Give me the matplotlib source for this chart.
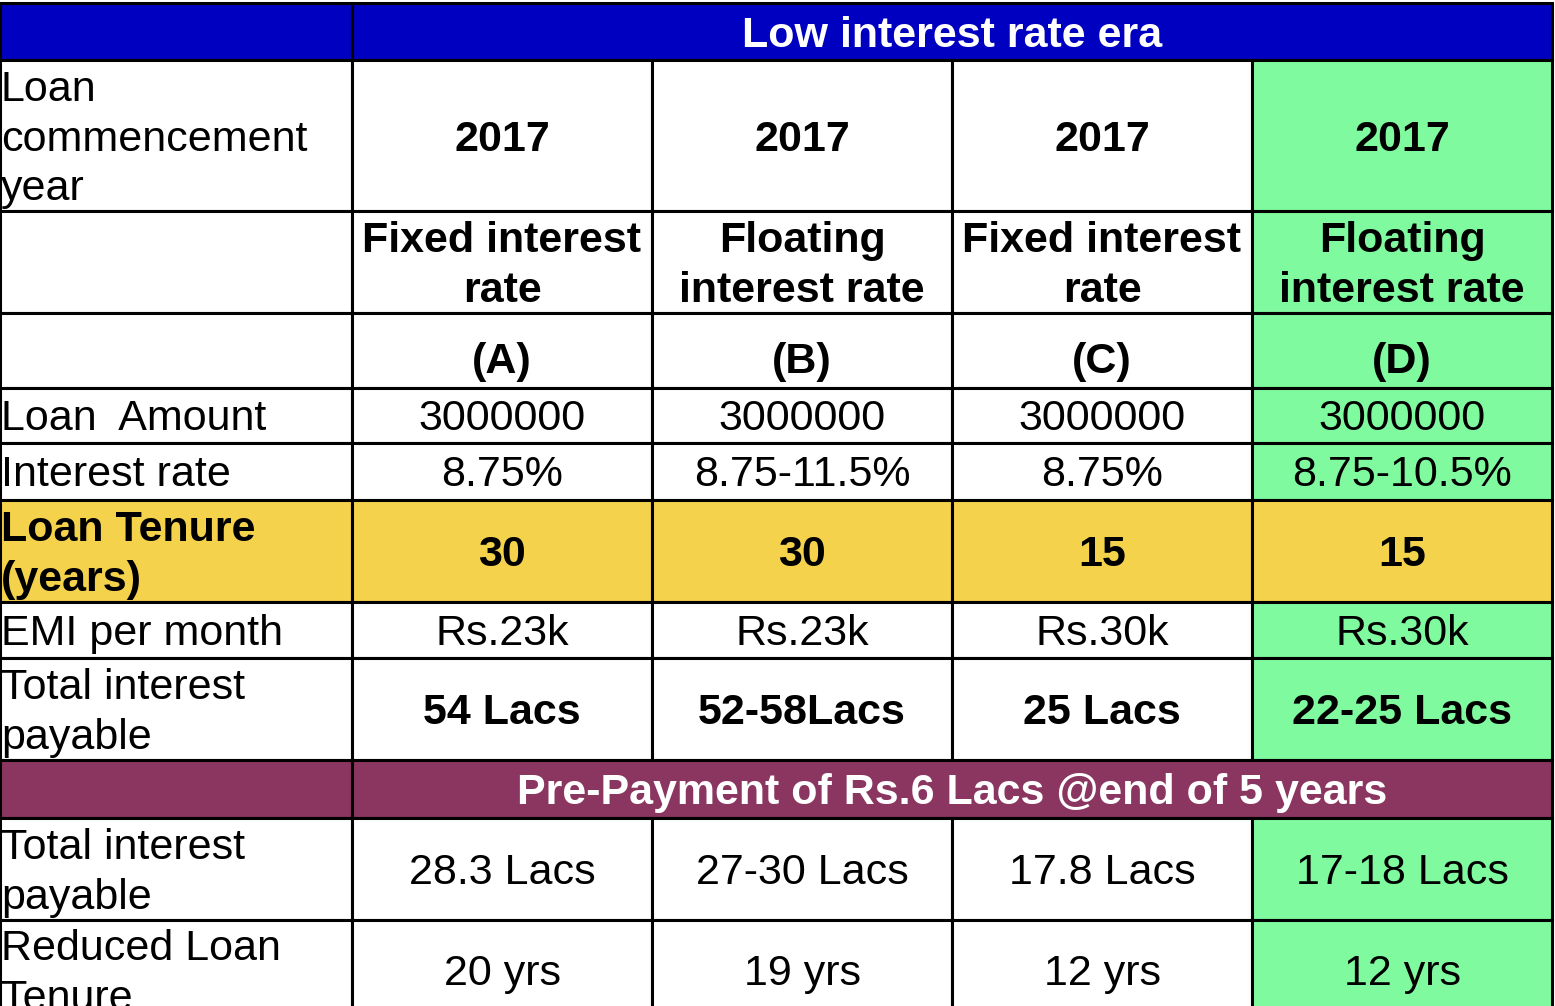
import matplotlib
matplotlib.use("Agg")
import matplotlib.pyplot as plt
from matplotlib.patches import Rectangle

plt.rcParams['font.family'] = ['Liberation Sans', 'DejaVu Sans']

# ---------------- data ----------------
header_title = "Low interest rate era"
prepay_title = "Pre-Payment of Rs.6 Lacs @end of 5 years"
row_labels = ["", "Loan\ncommencement\nyear", "", "", "Loan  Amount", "Interest rate",
              "Loan Tenure\n(years)", "EMI per month", "Total interest\npayable", "",
              "Total interest\npayable", "Reduced Loan\nTenure"]
years = ["2017", "2017", "2017", "2017"]
rate_types = ["Fixed interest\nrate", "Floating\ninterest rate",
              "Fixed interest\nrate", "Floating\ninterest rate"]
col_ids = ["(A)", "(B)", "(C)", "(D)"]
loan_amount = ["3000000", "3000000", "3000000", "3000000"]
interest_rate = ["8.75%", "8.75-11.5%", "8.75%", "8.75-10.5%"]
tenure = ["30", "30", "15", "15"]
emi = ["Rs.23k", "Rs.23k", "Rs.30k", "Rs.30k"]
total_interest = ["54 Lacs", "52-58Lacs", "25 Lacs", "22-25 Lacs"]
total_interest_prepay = ["28.3 Lacs", "27-30 Lacs", "17.8 Lacs", "17-18 Lacs"]
reduced_tenure = ["20 yrs", "19 yrs", "12 yrs", "12 yrs"]

# ---------------- layout ----------------
x_edges = [0, 352, 652, 952, 1252, 1552]
y_edges = [3, 60, 211, 313, 388, 443, 500, 602, 658, 760, 818, 920, 1020]

BLUE = "#0000c0"
GREEN = "#80fa9f"
YELLOW = "#f5d24b"
PURPLE = "#8a3660"
WHITE = "#ffffff"

rows = [
    None,                      # header
    (years, True),
    (rate_types, True),
    (col_ids, True),
    (loan_amount, False),
    (interest_rate, False),
    (tenure, True),
    (emi, False),
    (total_interest, True),
    None,                      # prepay header
    (total_interest_prepay, False),
    (reduced_tenure, False),
]
label_bold = [False] * 12
label_bold[6] = True

FS = 31
LS = 1.32
DY = 4
fig = plt.figure(figsize=(15.55, 10.06), dpi=100)
ax = fig.add_axes([0, 0, 1, 1])
ax.set_xlim(0, 1555)
ax.set_ylim(1006, 0)
ax.axis("off")

LW = 2.2
for r in range(12):
    y0, y1 = y_edges[r], y_edges[r + 1]
    h = y1 - y0
    yc = (y0 + y1) / 2 + DY
    if r in (0, 9):
        color = BLUE if r == 0 else PURPLE
        ax.add_patch(Rectangle((x_edges[0], y0), x_edges[1] - x_edges[0], h,
                               facecolor=color, edgecolor="black", lw=LW))
        ax.add_patch(Rectangle((x_edges[1], y0), x_edges[5] - x_edges[1], h,
                               facecolor=color, edgecolor="black", lw=LW))
        title = header_title if r == 0 else prepay_title
        ax.text((x_edges[1] + x_edges[5]) / 2, yc, title, color="white",
                fontsize=FS, fontweight="bold", ha="center", va="center")
        continue
    vals, bold = rows[r]
    for c in range(5):
        if r == 6:
            fc = YELLOW
        elif c == 4:
            fc = GREEN
        else:
            fc = WHITE
        ax.add_patch(Rectangle((x_edges[c], y0), x_edges[c + 1] - x_edges[c], h,
                               facecolor=fc, edgecolor="black", lw=LW))
    ax.text(1, yc, row_labels[r], fontsize=FS, ha="left", va="center",
            fontweight="bold" if label_bold[r] else "normal", linespacing=LS,
            color="black")
    for c, v in enumerate(vals):
        xc = (x_edges[c + 1] + x_edges[c + 2]) / 2
        ty = yc + (8 if r == 3 else 0)
        ax.text(xc, ty, v, fontsize=FS, ha="center", va="center",
                fontweight="bold" if bold else "normal", linespacing=LS,
                color="black")

fig.savefig("out.png", dpi=100)
